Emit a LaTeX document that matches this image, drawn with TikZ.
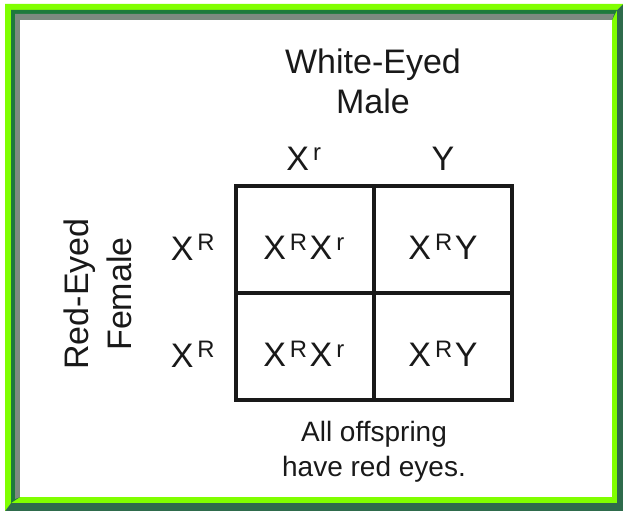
\documentclass[tikz,border=0pt]{standalone}
\usepackage{fontspec}
\setmainfont{Liberation Sans}
\usepackage{tikz}
\usetikzlibrary{positioning}
\definecolor{rimlight}{HTML}{80FF00}
\definecolor{rimdark}{HTML}{1E7A3C}
\definecolor{rimshade}{HTML}{7D8A80}
\definecolor{rimouter}{HTML}{2E6B4C}
\newcommand\bigtxt{\fontsize{34}{40}\selectfont}
\newcommand\notetxt{\fontsize{28}{34}\selectfont}
\newcommand\allele[1]{X\kern4pt\textsuperscript{#1}\kern2pt}
\tikzset{
  sq/.style   = {rectangle, draw=black!90, line width=3.5pt, minimum width=138pt,
                 minimum height=107pt, inner sep=0pt, outer sep=0pt,
                 text height=40pt, text depth=0pt, font=\bigtxt, text=black!90},
  lab/.style  = {font=\bigtxt, text=black!90, anchor=base, inner sep=0pt},
  note/.style = {font=\notetxt, text=black!90, anchor=base, inner sep=0pt},
}

\begin{document}
\begin{tikzpicture}[x=1pt, y=-1pt]
  \useasboundingbox (0,0) rectangle (623,511);

  % ---- frame ---------------------------------------------------------------
  \fill[rimouter] (5,4) rectangle (623,511);
  \fill[rimlight] (5,511) -- (5,4) -- (623,4) -- (617,10) -- (11,10) -- (11,503) -- cycle;
  \fill[rimlight] (11,10) rectangle (617,503);
  \fill[rimdark]  (11,503) -- (11,10) -- (617,10) -- (612,20) -- (20,20) -- (20,497) -- cycle;
  \fill[rimshade] (15,499) -- (15,14) -- (614,14) -- (612,20) -- (20,20) -- (20,497) -- cycle;
  \fill[white]    (20,20) rectangle (612,497);

  % ---- male gametes --------------------------------------------------------
  \node[lab] (male1) at (373,73)  {White-Eyed};
  \node[lab] (male2) at (373,113) {Male};
  \node[lab] (colr)  at (305,170) {\allele{r}};
  \node[lab] (coly)  at (443,170) {Y};

  % ---- female gametes ------------------------------------------------------
  \node[lab, rotate=90] (fem1) at (88,294)  {Red-Eyed};
  \node[lab, rotate=90] (fem2) at (131,294) {Female};
  \node[lab] (rowa) at (194,260) {\allele{R}};
  \node[lab] (rowb) at (194,367) {\allele{R}};

  % ---- punnett square ------------------------------------------------------
  \foreach \n/\x/\y/\t in {%
      aa/305/239.5/{\allele{R}\allele{r}},
      ab/443/239.5/{\allele{R}Y},
      ba/305/346.5/{\allele{R}\allele{r}},
      bb/443/346.5/{\allele{R}Y}} {
     \node[sq] (\n) at (\x,\y) {\t};
  }

  % ---- result --------------------------------------------------------------
  \node[note] (off1) at (374,441) {All offspring};
  \node[note] (off2) at (374,476) {have red eyes.};
\end{tikzpicture}
\end{document}
